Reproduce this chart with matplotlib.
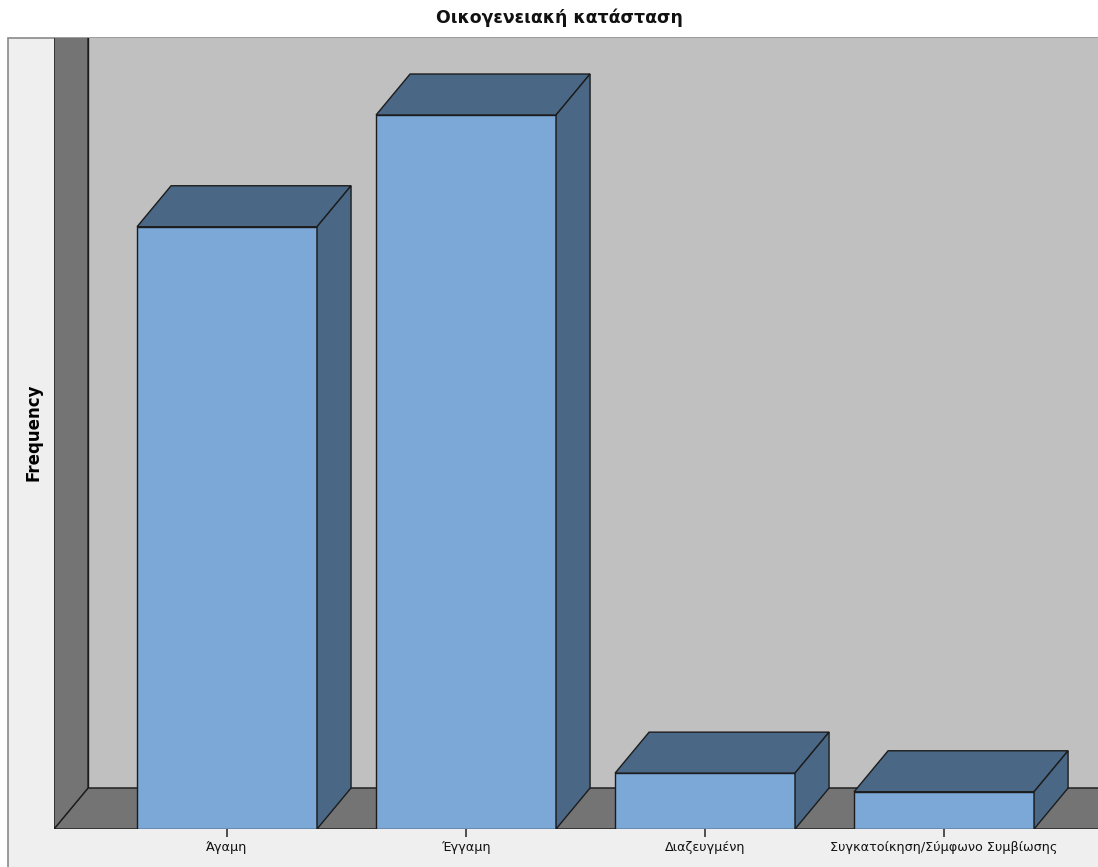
import matplotlib
matplotlib.use("Agg")
import matplotlib.pyplot as plt
from matplotlib.patches import Polygon, Rectangle

plt.rcParams['font.family'] = ['DejaVu Sans']

title = 'Οικογενειακή κατάσταση'
ylabel = 'Frequency'
categories = ['Άγαμη', 'Έγγαμη', 'Διαζευγμένη', 'Συγκατοίκηση/Σύμφωνο Συμβίωσης']
frequencies = [97, 115, 9, 6]

W, H = 1098, 867
fig = plt.figure(figsize=(W / 100, H / 100), dpi=100)
fig.patch.set_facecolor('white')

# outer chart frame (light panel)
bg = fig.add_axes([0, 0, 1, 1], zorder=0)
bg.set_xlim(0, W)
bg.set_ylim(H, 0)
bg.axis('off')
bg.add_patch(Rectangle((8, 38), W + 10, H, facecolor='#efefef', edgecolor='#8a8a8a', lw=1.2))

ax = fig.add_axes([54 / W, 1 - 829 / H, (W - 54) / W, (829 - 38) / H], zorder=1)
ax.set_xlim(-0.724, 3.644)
ax.set_ylim(0, 127.4)
ax.set_facecolor('none')
for s in ax.spines.values():
    s.set_visible(False)

dx, dy = 0.1423, 6.6
x0, x1 = -0.724, 3.644
ytop = 127.4
edge = '#1c1c1c'
lw = 1.0

# back wall
ax.add_patch(Polygon([(x0 + dx, dy), (x1 + 1, dy), (x1 + 1, ytop + 5), (x0 + dx, ytop + 5)],
                     closed=True, facecolor='#c0c0c0', edgecolor=edge, lw=lw, zorder=1))
# floor
ax.add_patch(Polygon([(x0, 0), (x1 + 1, 0), (x1 + 1 + dx, dy), (x0 + dx, dy)],
                     closed=True, facecolor='#747474', edgecolor=edge, lw=lw, zorder=2))
# left wall
ax.add_patch(Polygon([(x0, 0), (x0 + dx, dy), (x0 + dx, ytop + 5), (x0, ytop + 5)],
                     closed=True, facecolor='#747474', edgecolor=edge, lw=lw, zorder=2))

front = '#7ba8d6'
dark = '#4a6785'
bw = 0.753
for i, v in enumerate(frequencies):
    l, r = i - bw / 2, i + bw / 2
    ax.add_patch(Polygon([(l, 0), (r, 0), (r, v), (l, v)], closed=True,
                         facecolor=front, edgecolor=edge, lw=lw, zorder=5))
    ax.add_patch(Polygon([(l, v), (r, v), (r + dx, v + dy), (l + dx, v + dy)], closed=True,
                         facecolor=dark, edgecolor=edge, lw=lw, zorder=5))
    ax.add_patch(Polygon([(r, 0), (r + dx, dy), (r + dx, v + dy), (r, v)], closed=True,
                         facecolor=dark, edgecolor=edge, lw=lw, zorder=5))

ax.set_xticks(range(len(categories)))
ax.set_xticklabels(categories, fontsize=9.2, color='#111111')
ax.tick_params(axis='x', length=6, width=1.2, color='#333333', pad=3)
ax.set_yticks([])
ax.set_ylabel(ylabel, fontsize=12, fontweight='bold')
ax.yaxis.set_label_coords(-(54 - 42) / (W - 54), (829 - 432) / (829 - 38))

fig.text(559 / W, 1 - 18 / H, title, ha='center', va='center', fontsize=12.4,
         fontweight='bold', color='#111111')

fig.savefig('out.png', dpi=100)
